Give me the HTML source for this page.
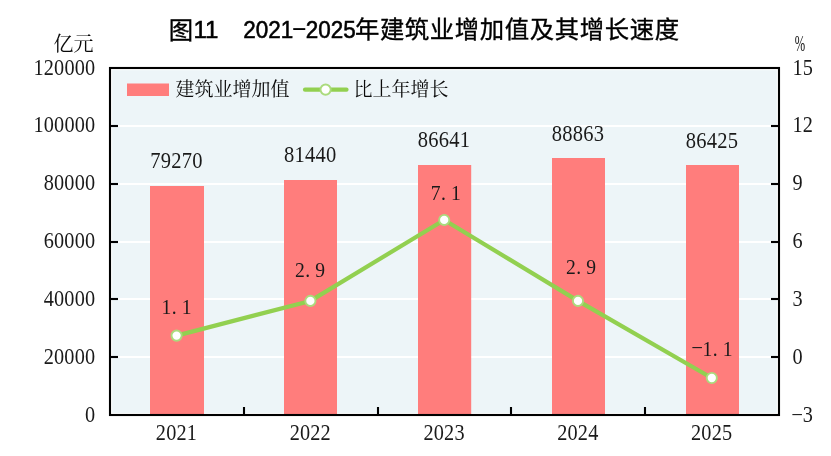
<!DOCTYPE html>
<html lang="zh-CN"><head><meta charset="utf-8"><title>图11 2021-2025年建筑业增加值及其增长速度</title>
<style>
html,body{margin:0;padding:0;background:#fff;}
body{width:831px;height:456px;overflow:hidden;}
svg{display:block;}
.n{font-family:"Liberation Serif","Noto Serif CJK SC",serif;fill:#1a1a1a;}
.c{font-family:"Liberation Serif","Noto Serif CJK SC",serif;fill:#0a0a0a;}
.t{font-family:"Liberation Sans","Noto Sans CJK SC",sans-serif;fill:#000;}
</style></head><body>
<svg width="831" height="456" viewBox="0 0 831 456">
<rect x="0" y="0" width="831" height="456" fill="#fff"/>
<rect x="112.2" y="70.2" width="664.6" height="342.7" fill="#edf5f8"/>
<line x1="110.0" x2="779.0" y1="357" y2="357" stroke="#fff" stroke-width="2.2"/>
<line x1="110.0" x2="779.0" y1="299" y2="299" stroke="#fff" stroke-width="2.2"/>
<line x1="110.0" x2="779.0" y1="242" y2="242" stroke="#fff" stroke-width="2.2"/>
<line x1="110.0" x2="779.0" y1="184" y2="184" stroke="#fff" stroke-width="2.2"/>
<line x1="110.0" x2="779.0" y1="126" y2="126" stroke="#fff" stroke-width="2.2"/>
<rect x="150" y="186" width="54" height="229.0" fill="#ff7d7c"/>
<rect x="284" y="180" width="53" height="235.0" fill="#ff7d7c"/>
<rect x="418" y="165" width="53.2" height="250.0" fill="#ff7d7c"/>
<rect x="552" y="158" width="53" height="257.0" fill="#ff7d7c"/>
<rect x="686" y="165" width="53" height="250.0" fill="#ff7d7c"/>
<line x1="110.0" x2="118.0" y1="357" y2="357" stroke="#000" stroke-width="2.1"/>
<line x1="771.0" x2="779.0" y1="357" y2="357" stroke="#000" stroke-width="2.1"/>
<line x1="110.0" x2="118.0" y1="299" y2="299" stroke="#000" stroke-width="2.1"/>
<line x1="771.0" x2="779.0" y1="299" y2="299" stroke="#000" stroke-width="2.1"/>
<line x1="110.0" x2="118.0" y1="242" y2="242" stroke="#000" stroke-width="2.1"/>
<line x1="771.0" x2="779.0" y1="242" y2="242" stroke="#000" stroke-width="2.1"/>
<line x1="110.0" x2="118.0" y1="184" y2="184" stroke="#000" stroke-width="2.1"/>
<line x1="771.0" x2="779.0" y1="184" y2="184" stroke="#000" stroke-width="2.1"/>
<line x1="110.0" x2="118.0" y1="126" y2="126" stroke="#000" stroke-width="2.1"/>
<line x1="771.0" x2="779.0" y1="126" y2="126" stroke="#000" stroke-width="2.1"/>
<line x1="244" x2="244" y1="407.0" y2="415.0" stroke="#000" stroke-width="2.1"/>
<line x1="378" x2="378" y1="407.0" y2="415.0" stroke="#000" stroke-width="2.1"/>
<line x1="511" x2="511" y1="407.0" y2="415.0" stroke="#000" stroke-width="2.1"/>
<line x1="645" x2="645" y1="407.0" y2="415.0" stroke="#000" stroke-width="2.1"/>
<rect x="110.0" y="68.0" width="669.0" height="347.0" fill="none" stroke="#000" stroke-width="2.1"/>
<polyline points="176.60,335.61 310.40,300.91 444.20,219.94 578.00,300.91 711.80,378.02" fill="none" stroke="#92d050" stroke-width="4.2" stroke-linejoin="round" stroke-linecap="round"/>
<circle cx="176.60" cy="335.61" r="5.1" fill="#fff" stroke="#abdb7d" stroke-width="1.9"/>
<circle cx="310.40" cy="300.91" r="5.1" fill="#fff" stroke="#abdb7d" stroke-width="1.9"/>
<circle cx="444.20" cy="219.94" r="5.1" fill="#fff" stroke="#abdb7d" stroke-width="1.9"/>
<circle cx="578.00" cy="300.91" r="5.1" fill="#fff" stroke="#abdb7d" stroke-width="1.9"/>
<circle cx="711.80" cy="378.02" r="5.1" fill="#fff" stroke="#abdb7d" stroke-width="1.9"/>
<rect x="127" y="83.5" width="42" height="12.5" fill="#ff7d7c"/>
<text class="c" x="175.5" y="96.3" font-size="19">建筑业增加值</text>
<line x1="305" x2="346.5" y1="89.7" y2="89.7" stroke="#92d050" stroke-width="4.2" stroke-linecap="round"/>
<circle cx="325.6" cy="89.6" r="5.1" fill="#fff" stroke="#abdb7d" stroke-width="1.9"/>
<text class="c" x="353.6" y="96.3" font-size="19">比上年增长</text>
<text class="n" font-size="22.3" transform="translate(84.90,422.20) scale(0.909,1)" x="0.09" y="0">0</text>
<text class="n" font-size="22.3" transform="translate(43.70,364.20) scale(0.909,1)" x="0.09 11.42 22.75 34.08 45.42" y="0">20000</text>
<text class="n" font-size="22.3" transform="translate(43.70,306.00) scale(0.909,1)" x="0.09 11.42 22.75 34.08 45.42" y="0">40000</text>
<text class="n" font-size="22.3" transform="translate(43.70,248.00) scale(0.909,1)" x="0.09 11.42 22.75 34.08 45.42" y="0">60000</text>
<text class="n" font-size="22.3" transform="translate(43.70,190.00) scale(0.909,1)" x="0.09 11.42 22.75 34.08 45.42" y="0">80000</text>
<text class="n" font-size="22.3" transform="translate(33.40,131.95) scale(0.909,1)" x="0.09 11.42 22.75 34.08 45.42 56.75" y="0">100000</text>
<text class="n" font-size="22.3" transform="translate(33.40,75.15) scale(0.909,1)" x="0.09 11.42 22.75 34.08 45.42 56.75" y="0">120000</text>
<text class="n" font-size="22.3" transform="translate(792.40,422.20) scale(0.909,1)"><tspan x="-1.43" dy="-4.7" font-size="14" textLength="13.53" lengthAdjust="spacingAndGlyphs">-</tspan><tspan x="11.42" dy="4.7">3</tspan></text>
<text class="n" font-size="22.3" transform="translate(792.40,364.20) scale(0.909,1)" x="0.09" y="0">0</text>
<text class="n" font-size="22.3" transform="translate(792.40,306.00) scale(0.909,1)" x="0.09" y="0">3</text>
<text class="n" font-size="22.3" transform="translate(792.40,248.00) scale(0.909,1)" x="0.09" y="0">6</text>
<text class="n" font-size="22.3" transform="translate(792.40,190.00) scale(0.909,1)" x="0.09" y="0">9</text>
<text class="n" font-size="22.3" transform="translate(792.40,131.95) scale(0.909,1)" x="0.09 11.42" y="0">12</text>
<text class="n" font-size="22.3" transform="translate(792.40,75.15) scale(0.909,1)" x="0.09 11.42" y="0">15</text>
<text class="c" x="53.5" y="50.5" font-size="20">亿元</text>
<text class="n" font-size="22.3" transform="translate(794.8,51) scale(0.56,1)" x="0" y="0">%</text>
<text class="n" font-size="22.3" transform="translate(155.80,440.00) scale(0.909,1)" x="0.09 11.42 22.75 34.08" y="0">2021</text>
<text class="n" font-size="22.3" transform="translate(289.60,440.00) scale(0.909,1)" x="0.09 11.42 22.75 34.08" y="0">2022</text>
<text class="n" font-size="22.3" transform="translate(423.40,440.00) scale(0.909,1)" x="0.09 11.42 22.75 34.08" y="0">2023</text>
<text class="n" font-size="22.3" transform="translate(557.20,440.00) scale(0.909,1)" x="0.09 11.42 22.75 34.08" y="0">2024</text>
<text class="n" font-size="22.3" transform="translate(691.00,440.00) scale(0.909,1)" x="0.09 11.42 22.75 34.08" y="0">2025</text>
<text class="n" font-size="22.6" transform="translate(150.05,167.75) scale(0.909,1)" x="0.13 11.68 23.23 34.78 46.33" y="0">79270</text>
<text class="n" font-size="22.6" transform="translate(283.85,161.90) scale(0.909,1)" x="0.13 11.68 23.23 34.78 46.33" y="0">81440</text>
<text class="n" font-size="22.6" transform="translate(417.65,146.95) scale(0.909,1)" x="0.13 11.68 23.23 34.78 46.33" y="0">86641</text>
<text class="n" font-size="22.6" transform="translate(551.55,140.80) scale(0.909,1)" x="0.13 11.68 23.23 34.78 46.33" y="0">88863</text>
<text class="n" font-size="22.6" transform="translate(685.75,147.80) scale(0.909,1)" x="0.13 11.68 23.23 34.78 46.33" y="0">86425</text>
<text class="n" font-size="21.6" transform="translate(161.45,313.71) scale(0.909,1)" x="0.16 11.27 22.38" y="0">1.1</text>
<text class="n" font-size="21.6" transform="translate(294.95,276.81) scale(0.909,1)" x="0.16 11.27 22.38" y="0">2.9</text>
<text class="n" font-size="21.6" transform="translate(430.65,200.14) scale(0.909,1)" x="0.16 11.27 22.38" y="0">7.1</text>
<text class="n" font-size="21.6" transform="translate(565.95,274.31) scale(0.909,1)" x="0.16 11.27 22.38" y="0">2.9</text>
<text class="n" font-size="21.6" transform="translate(692.30,355.92) scale(0.909,1)"><tspan x="-1.43" dy="-4.7" font-size="14" textLength="13.53" lengthAdjust="spacingAndGlyphs">-</tspan><tspan x="11.27 22.38 33.49" dy="4.7">1.1</tspan></text>
<text class="t" y="38.8" font-weight="400"><tspan x="168.8" font-size="24.4" letter-spacing="0.6" stroke="#000" stroke-width="0.35">图</tspan><tspan x="193.5" y="38" font-size="23.8" textLength="25" lengthAdjust="spacingAndGlyphs" stroke="#000" stroke-width="0.55">11</tspan><tspan> </tspan><tspan x="243.3" y="38" font-size="23.8" textLength="50" lengthAdjust="spacingAndGlyphs" stroke="#000" stroke-width="0.55">2021</tspan><tspan dx="-2.4" dy="-2.6" font-size="23.8" textLength="16.5" lengthAdjust="spacingAndGlyphs">-</tspan><tspan dx="-1.6" dy="2.6" font-size="23.8" textLength="50" lengthAdjust="spacingAndGlyphs" stroke="#000" stroke-width="0.55">2025</tspan><tspan x="354.9" y="38.4" font-size="24.4" letter-spacing="0.6" stroke="#000" stroke-width="0.35">年建筑业增加值及其增长速度</tspan></text>
</svg></body></html>
